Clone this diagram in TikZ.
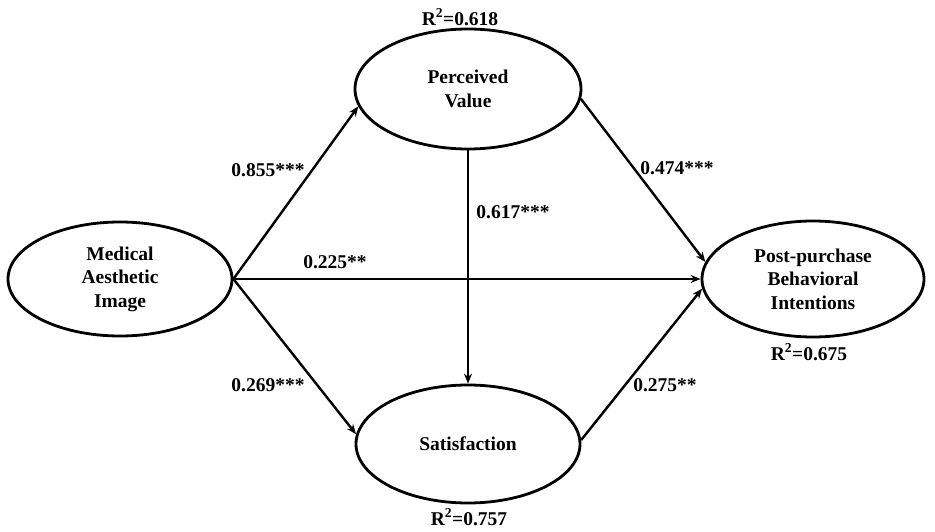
\documentclass[tikz,border=0pt]{standalone}
\usepackage{fontspec}
\setmainfont{Liberation Serif}
\usepackage{tikz}
\usetikzlibrary{positioning,shapes.geometric,arrows.meta}

\begin{document}
\begin{tikzpicture}[x=1pt, y=-1pt,
              every node/.style = {font=\fontsize{19.5}{23.5}\selectfont\bfseries},
              latent/.style = {shape=ellipse, draw, line width=2.8pt, inner sep=0pt, align=center},
              path/.style = {draw, line width=2.4pt, -{Stealth[length=10pt,width=8pt]}},
              coef/.style = {inner sep=1pt}]
  \useasboundingbox (0,0) rectangle (935,532);
  % constructs
  \node[latent, minimum width=224pt, minimum height=114pt] (mai) at (120,279) {Medical\\Aesthetic\\Image};
  \node[latent, minimum width=226pt, minimum height=120pt] (pv) at (468,89) {Perceived\\Value};
  \node[latent, minimum width=224pt, minimum height=118pt] (sat) at (468,444) {Satisfaction};
  \node[latent, minimum width=222pt, minimum height=116pt] (pbi) at (813,279) {Post-purchase\\Behavioral\\Intentions};
  % explained variance
  \node (r2pv) at (460,17) {R\textsuperscript{2}=0.618};
  \node (r2pbi) at (809,352) {R\textsuperscript{2}=0.675};
  \node (r2sat) at (469,517) {R\textsuperscript{2}=0.757};
  % paths
  \draw[path] (mai.east) -- (pv.189);
  \draw[path] (mai.east) -- (pbi.west);
  \draw[path] (mai.east) -- (sat.175);
  \draw[path] (pv.south) -- (sat.north);
  \draw[path] (pv.-5) -- (pbi.171);
  \draw[path] (sat.2) -- (pbi.185);
  % coefficients
  \node[coef] (c1) at (268,170) {0.855***};
  \node[coef] (c2) at (335,262) {0.225**};
  \node[coef] (c3) at (268,385) {0.269***};
  \node[coef] (c4) at (677,168) {0.474***};
  \node[coef] (c5) at (513,212) {0.617***};
  \node[coef] (c6) at (665,385) {0.275**};
\end{tikzpicture}
\end{document}
